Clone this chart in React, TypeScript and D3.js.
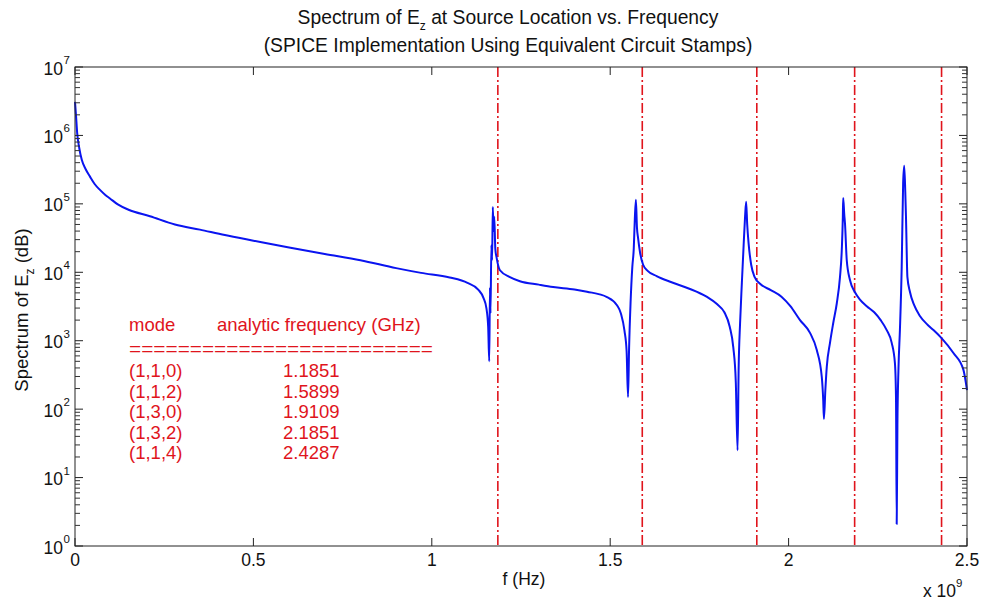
import React from 'react';
import * as d3 from 'd3';

// Frequency samples (GHz) and |Ez| spectrum values at the source location
const freqGHz = [
  0.000, 0.003, 0.006, 0.012, 0.019, 0.030, 0.042, 0.055, 0.070, 0.085,
  0.098, 0.120, 0.150, 0.210, 0.280, 0.350, 0.420, 0.500, 0.600, 0.700,
  0.800, 0.900, 0.970, 1.050, 1.100, 1.130, 1.145, 1.153, 1.158, 1.161,
  1.163, 1.1645, 1.167, 1.169, 1.171, 1.173, 1.175, 1.178, 1.182, 1.191,
  1.219, 1.247, 1.300, 1.340, 1.400, 1.435, 1.491, 1.519, 1.530, 1.540,
  1.546, 1.550, 1.553, 1.557, 1.562, 1.566, 1.569, 1.572, 1.575, 1.578,
  1.584, 1.592, 1.605, 1.630, 1.670, 1.720, 1.770, 1.800, 1.820, 1.835,
  1.845, 1.852, 1.857, 1.860, 1.864, 1.869, 1.874, 1.878, 1.881, 1.884,
  1.888, 1.895, 1.905, 1.920, 1.950, 1.980, 2.005, 2.032, 2.060,
  2.079, 2.093, 2.097, 2.099, 2.103, 2.107, 2.116, 2.125, 2.135, 2.144,
  2.149, 2.152, 2.153, 2.156, 2.158, 2.163, 2.172, 2.186, 2.200, 2.219,
  2.240, 2.258, 2.275, 2.289, 2.298, 2.301, 2.303, 2.305, 2.308, 2.312, 2.317,
  2.321, 2.324, 2.327, 2.329, 2.333, 2.340, 2.352, 2.368, 2.390, 2.406, 2.428, 2.462,
  2.490, 2.500,
];

const spectrum = [
  3.1e6, 1.9e6, 1.1e6, 6.5e5, 4.4e5, 3.2e5, 2.5e5, 1.95e5, 1.6e5, 1.35e5,
  1.2e5, 9.8e4, 8.2e4, 6.6e4, 5.0e4, 4.2e4, 3.5e4, 2.9e4, 2.3e4, 1.85e4,
  1.5e4, 1.15e4, 9.8e3, 8.4e3, 7.0e3, 5.6e3, 4.2e3, 3.0e3, 1.6e3, 5.0e2,
  6.0e3, 2.5e3, 2.5e4, 1.5e4, 9.0e4, 4.0e4, 6.5e4, 2.2e4, 1.6e4, 1.07e4,
  8.5e3, 7.4e3, 6.6e3, 6.1e3, 5.6e3, 5.2e3, 4.35e3, 3.3e3, 2.5e3, 1.4e3,
  7.0e2, 1.5e2, 8.0e2, 3.5e3, 1.2e4, 2.2e4, 6.0e4, 1.15e5, 4.5e4, 3.2e4,
  1.9e4, 1.3e4, 1.05e4, 8.8e3, 7.2e3, 5.8e3, 4.4e3, 3.4e3, 2.6e3, 1.6e3,
  8.0e2, 2.5e2, 25, 4.0e2, 1.8e3, 7.0e3, 2.5e4, 6.5e4, 1.07e5, 5.0e4,
  2.6e4, 1.3e4, 8.5e3, 6.8e3, 5.5e3, 4.4e3, 3.2e3, 2.0e3, 1.3e3,
  7.3e2, 2.95e2, 1.36e2, 72, 1.9e2, 4.15e2, 9.3e2, 1.8e3, 3.5e3, 8.5e3,
  2.1e4, 6.4e4, 1.22e5, 7.0e4, 5.2e4, 1.5e4, 7.7e3, 5.1e3, 4.0e3, 3.2e3,
  2.6e3, 2.0e3, 1.43e3, 9.3e2, 4.7e2, 1.5e2, 2.1, 60, 4.0e2, 1.44e3, 1.2e4,
  2.0e5, 3.6e5, 1.5e5, 6.4e4, 8.5e3, 5.2e3, 3.3e3, 2.3e3, 1.7e3, 1.43e3, 1.1e3, 6.6e2,
  3.75e2, 1.9e2,
];

// Analytic cavity resonances
const modeLabels = ['(1,1,0)', '(1,1,2)', '(1,3,0)', '(1,3,2)', '(1,1,4)'];
const modeFreqText = ['1.1851', '1.5899', '1.9109', '2.1851', '2.4287'];
const modeFreqGHz = [1.1851, 1.5899, 1.9109, 2.1851, 2.4287];

const xTicksGHz = [0, 0.5, 1, 1.5, 2, 2.5];
const yExponents = [0, 1, 2, 3, 4, 5, 6, 7];

const FONT = '"Liberation Sans", Arial, Helvetica, sans-serif';
const RED = '#e0141c';
const BLUE = '#0a14f0';

export default function App() {
  const W = 983;
  const H = 603;
  const L = 75, R = 967, T = 67, B = 546;

  const x = d3.scaleLinear().domain([0, 2.5e9]).range([L, R]);
  const y = d3.scaleLog().domain([1, 1e7]).range([B, T]);

  const points: [number, number][] = freqGHz.map((f, i) => [f * 1e9, spectrum[i]]);
  const linePath = d3
    .line<[number, number]>()
    .x((d) => x(d[0]))
    .y((d) => y(d[1]))
    .curve(d3.curveMonotoneX)(points) as string;

  const minorTicks: number[] = [];
  for (let k = 0; k < 7; k++) {
    for (let m = 2; m <= 9; m++) minorTicks.push(m * Math.pow(10, k));
  }

  const majorLen = 8;
  const minorLen = 5;

  return (
    <svg
      width={W}
      height={H}
      viewBox={`0 0 ${W} ${H}`}
      style={{ position: 'absolute', left: 0, top: 0, background: '#fff' }}
      fontFamily={FONT}
    >
      <rect x={0} y={0} width={W} height={H} fill="#fff" />

      {/* title */}
      <text x={508} y={24} textAnchor="middle" fontSize={19.3} fill="#111">
        Spectrum of E
        <tspan fontSize={12} dy={6}>z</tspan>
        <tspan dy={-6}> at Source Location vs. Frequency</tspan>
      </text>
      <text x={508} y={52} textAnchor="middle" fontSize={19.3} fill="#111">
        (SPICE Implementation Using Equivalent Circuit Stamps)
      </text>

      {/* resonance markers */}
      {modeFreqGHz.map((f, i) => (
        <line
          key={`mode-${i}`}
          x1={x(f * 1e9)}
          x2={x(f * 1e9)}
          y1={T}
          y2={B}
          stroke={RED}
          strokeWidth={1.6}
          strokeDasharray="10,3,2,3"
        />
      ))}

      {/* spectrum curve */}
      <path d={linePath} fill="none" stroke={BLUE} strokeWidth={2} strokeLinejoin="round" />

      {/* axes box */}
      <rect x={L} y={T} width={R - L} height={B - T} fill="none" stroke="#222" strokeWidth={1} />

      {/* x ticks */}
      {xTicksGHz.map((t) => {
        const px = x(t * 1e9);
        return (
          <g key={`xt-${t}`}>
            <line x1={px} x2={px} y1={B} y2={B - majorLen} stroke="#222" />
            <line x1={px} x2={px} y1={T} y2={T + majorLen} stroke="#222" />
            <text x={px} y={566} textAnchor="middle" fontSize={17.5} fill="#111">
              {String(t)}
            </text>
          </g>
        );
      })}

      {/* y major ticks and labels */}
      {yExponents.map((e) => {
        const py = y(Math.pow(10, e));
        return (
          <g key={`yt-${e}`}>
            <line x1={L} x2={L + majorLen} y1={py} y2={py} stroke="#222" />
            <line x1={R} x2={R - majorLen} y1={py} y2={py} stroke="#222" />
            <text x={63} y={py + 7.5} textAnchor="end" fontSize={17.5} fill="#111">
              10
            </text>
            <text x={63.5} y={py - 3} fontSize={11.5} fill="#111">
              {e}
            </text>
          </g>
        );
      })}

      {/* y minor ticks */}
      {minorTicks.map((v, i) => {
        const py = y(v);
        return (
          <g key={`ym-${i}`}>
            <line x1={L} x2={L + minorLen} y1={py} y2={py} stroke="#333" />
            <line x1={R} x2={R - minorLen} y1={py} y2={py} stroke="#333" />
          </g>
        );
      })}

      {/* axis labels */}
      <text x={524} y={585} textAnchor="middle" fontSize={17.5} fill="#111">
        f (Hz)
      </text>
      <text x={923} y={597} fontSize={17.5} fill="#111">
        x 10
        <tspan fontSize={11.5} dy={-10}>9</tspan>
      </text>
      <text transform={`translate(28, 310) rotate(-90)`} textAnchor="middle" fontSize={18.5} fill="#111">
        Spectrum of E
        <tspan fontSize={12} dy={6}>z</tspan>
        <tspan dy={-6}> (dB)</tspan>
      </text>

      {/* mode table */}
      <g fill={RED} fontSize={18.5}>
        <text x={129} y={331}>mode</text>
        <text x={217} y={331}>analytic frequency (GHz)</text>
        <text x={129} y={355} textLength={304} lengthAdjust="spacingAndGlyphs">
          {'========================='}
        </text>
        {modeLabels.map((m, i) => (
          <g key={`row-${i}`}>
            <text x={129} y={377 + i * 20.5}>{m}</text>
            <text x={283} y={377 + i * 20.5}>{modeFreqText[i]}</text>
          </g>
        ))}
      </g>
    </svg>
  );
}
